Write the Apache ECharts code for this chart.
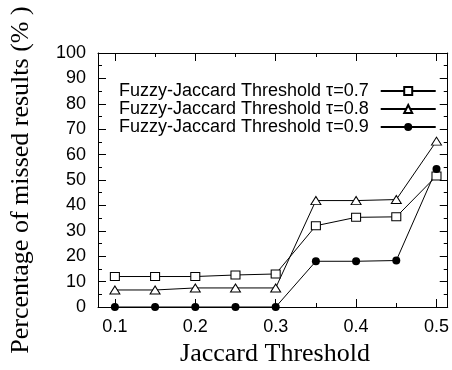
<!DOCTYPE html>
<html>
<head>
<meta charset="utf-8">
<script src="https://cdn.jsdelivr.net/npm/echarts@6/dist/echarts.min.js"></script>
<style>
  html, body { margin: 0; padding: 0; background: #fff; }
  #chart { width: 452px; height: 370px; }
</style>
</head>
<body>
<div id="chart"></div>
<script>
// Jaccard threshold values (x) shared by every series
const jaccard = [0.1, 0.15, 0.2, 0.25, 0.3, 0.35, 0.4, 0.45, 0.5];

// Percentage of missed results for each Fuzzy-Jaccard threshold
const tau07 = [12, 12, 12, 12.6, 13, 32, 35.3, 35.5, 51.6];
const tau08 = [6.7, 6.7, 7.5, 7.5, 7.5, 41.9, 41.9, 42.3, 65.3];
const tau09 = [0, 0, 0, 0, 0, 18, 18, 18.3, 54.3];

const seriesNames = [
  'Fuzzy-Jaccard Threshold \u03c4=0.7',
  'Fuzzy-Jaccard Threshold \u03c4=0.8',
  'Fuzzy-Jaccard Threshold \u03c4=0.9'
];

// Axis ticks
const xMajorTicks = [0.1, 0.2, 0.3, 0.4, 0.5];
const xMinorTicks = [0.15, 0.25, 0.35, 0.45];
const xRange = [0.079, 0.514];
const yRange = [0, 100];

const sans = '"Liberation Sans", Arial, sans-serif';
const serif = '"Liberation Serif", "Times New Roman", serif';

const pairs = (vals) => jaccard.map((x, i) => [x, vals[i]]);

function xAxisDef(position, ticks, len, showLine, showLabel) {
  return {
    type: 'value', position: position, min: xRange[0], max: xRange[1],
    axisLine: { show: showLine, onZero: false, lineStyle: { color: '#000', width: 1 } },
    axisTick: { show: true, inside: true, length: len, customValues: ticks,
                lineStyle: { color: '#000', width: 1 } },
    axisLabel: showLabel ? {
      show: true, customValues: ticks, margin: 11,
      fontFamily: sans, fontSize: 18, color: '#000',
      formatter: (v) => v.toFixed(1)
    } : { show: false },
    splitLine: { show: false }
  };
}

function yAxisDef(position, showLabel) {
  return {
    type: 'value', position: position, min: yRange[0], max: yRange[1], interval: 10,
    axisLine: { show: true, onZero: false, lineStyle: { color: '#000', width: 1 } },
    axisTick: { show: true, inside: true, length: 8, lineStyle: { color: '#000', width: 1 } },
    minorTick: { show: true, splitNumber: 2, length: 4, lineStyle: { color: '#000', width: 1 } },
    axisLabel: { show: showLabel, margin: 12, fontFamily: sans, fontSize: 18, color: '#000' },
    splitLine: { show: false }
  };
}

const lineBase = {
  type: 'line', xAxisIndex: 0, yAxisIndex: 0,
  lineStyle: { color: '#000', width: 1 },
  emphasis: { disabled: true },
  animation: false, z: 3
};

const chart = echarts.init(document.getElementById('chart'), null, { renderer: 'canvas' });
chart.setOption({
  backgroundColor: '#fff',
  animation: false,
  grid: { left: 98, right: 4, top: 53, bottom: 63 },
  xAxis: [
    xAxisDef('bottom', xMajorTicks, 8, true, true),
    xAxisDef('bottom', xMinorTicks, 4, false, false),
    xAxisDef('top', xMajorTicks, 8, true, false),
    xAxisDef('top', xMinorTicks, 4, false, false)
  ],
  yAxis: [yAxisDef('left', true), yAxisDef('right', false)],
  legend: {
    orient: 'vertical', left: 114, top: 77, align: 'right',
    itemWidth: 55, itemHeight: 10, itemGap: 0,
    textStyle: { fontFamily: sans, fontSize: 18, lineHeight: 18, color: '#000',
                 padding: [0, 7, 0, 0] },
    data: seriesNames
  },
  series: [
    Object.assign({}, lineBase, {
      name: seriesNames[0], data: pairs(tau07),
      symbol: 'rect', symbolSize: [9, 8],
      itemStyle: { color: '#fff', borderColor: '#000', borderWidth: 1 }
    }),
    Object.assign({}, lineBase, {
      name: seriesNames[1], data: pairs(tau08),
      symbol: 'triangle', symbolSize: [10, 8],
      itemStyle: { color: '#fff', borderColor: '#000', borderWidth: 1 }
    }),
    Object.assign({}, lineBase, {
      name: seriesNames[2], data: pairs(tau09),
      symbol: 'circle', symbolSize: 8,
      itemStyle: { color: '#000', borderColor: '#000', borderWidth: 0 }
    })
  ],
  graphic: [
    {
      type: 'text', x: 275, y: 354,
      style: { text: 'Jaccard Threshold', font: '26px ' + serif, fill: '#000',
               align: 'center', verticalAlign: 'middle' }
    },
    {
      type: 'text', x: 21, y: 180, rotation: Math.PI / 2,
      style: { text: 'Percentage of missed results (% )', font: '26px ' + serif, fill: '#000',
               align: 'center', verticalAlign: 'middle' }
    }
  ]
});
</script>
</body>
</html>
